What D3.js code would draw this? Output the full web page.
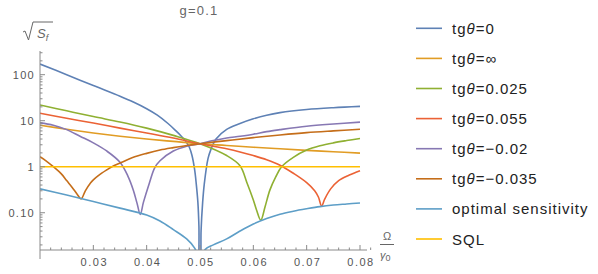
<!DOCTYPE html>
<html>
<head>
<meta charset="utf-8">
<script src="https://cdn.jsdelivr.net/npm/d3@7"></script>
<style>
  body { margin: 0; background: #fff; }
  text { font-family: "Liberation Sans", Arial, sans-serif; }
</style>
</head>
<body>
<div id="chart"></div>
<script>
// curves: [Ω/γ0, √S_f]
var tg0 = [[0.02,170],[0.025,100],[0.03,58],[0.035,34],[0.0375,25.4],[0.04,18.2],[0.042,13.2],[0.044,8.7],[0.0455,6.0],[0.0465,4.6],[0.0473,3.6],[0.048,2.65],[0.0485,1.75],[0.049,0.85],[0.0493,0.42],[0.0496,0.17],[0.0498,0.05],[0.04995,0.004],[0.05005,0.004],[0.0502,0.04],[0.0505,0.17],[0.0508,0.42],[0.0515,1.5],[0.052,2.3],[0.053,4.0],[0.055,6.5],[0.0575,8.7],[0.06,11],[0.0625,13.2],[0.065,15],[0.07,17.5],[0.075,19.2],[0.08,20.5]];
var tgInf = [[0.02,8.0],[0.025,6.5],[0.03,5.4],[0.035,4.6],[0.04,4.0],[0.045,3.55],[0.05,3.16],[0.055,2.9],[0.06,2.65],[0.065,2.45],[0.07,2.27],[0.075,2.12],[0.08,1.98]];
var tg025 = [[0.02,22],[0.025,16.4],[0.03,12.3],[0.035,9.4],[0.04,6.9],[0.045,4.8],[0.05,3.16],[0.055,1.75],[0.0575,1.05],[0.0588,0.45],[0.06,0.19],[0.0606,0.115],[0.0614,0.069],[0.0622,0.135],[0.0631,0.31],[0.0642,0.6],[0.0653,1.0],[0.0675,1.6],[0.07,2.3],[0.0725,2.85],[0.075,3.3],[0.0775,3.7],[0.08,4.1]];
var tg055 = [[0.02,14.5],[0.025,11.3],[0.03,8.9],[0.035,6.9],[0.04,5.4],[0.045,4.2],[0.05,3.16],[0.055,2.45],[0.0575,2.1],[0.06,1.75],[0.0625,1.42],[0.065,1.08],[0.0675,0.72],[0.07,0.45],[0.0715,0.3],[0.0722,0.22],[0.0728,0.14],[0.0734,0.2],[0.0745,0.33],[0.076,0.5],[0.078,0.66],[0.08,0.82]];
var tgm02 = [[0.02,9.0],[0.0225,8.0],[0.025,6.4],[0.0275,4.6],[0.03,3.3],[0.0325,2.2],[0.035,1.25],[0.0365,0.62],[0.0375,0.31],[0.0382,0.16],[0.0388,0.092],[0.0394,0.17],[0.0405,0.44],[0.0415,0.95],[0.0425,1.35],[0.045,2.2],[0.0475,2.8],[0.05,3.16],[0.0525,3.7],[0.055,4.2],[0.0575,4.6],[0.06,5.1],[0.0625,5.8],[0.065,6.4],[0.07,7.6],[0.075,8.5],[0.08,9.3]];
var tgm035 = [[0.02,1.65],[0.021,1.38],[0.0225,1.0],[0.024,0.7],[0.025,0.5],[0.026,0.36],[0.027,0.25],[0.0277,0.2],[0.0285,0.3],[0.0295,0.45],[0.03,0.52],[0.031,0.65],[0.0325,0.85],[0.0335,1.0],[0.035,1.2],[0.0375,1.6],[0.04,1.95],[0.0425,2.3],[0.045,2.6],[0.0475,2.9],[0.05,3.16],[0.055,3.7],[0.06,4.3],[0.065,4.9],[0.07,5.5],[0.075,6.0],[0.08,6.5]];
var optimal = [[0.02,0.33],[0.025,0.243],[0.03,0.175],[0.035,0.126],[0.04,0.089],[0.0425,0.066],[0.045,0.043],[0.0475,0.027],[0.049,0.017],[0.0497,0.01],[0.04995,0.003],[0.05005,0.003],[0.0503,0.01],[0.051,0.016],[0.0525,0.02],[0.055,0.027],[0.0575,0.04],[0.06,0.057],[0.0625,0.075],[0.065,0.093],[0.0675,0.108],[0.07,0.122],[0.0725,0.136],[0.075,0.147],[0.0775,0.155],[0.08,0.163]];
var sql = [[0.02,1],[0.08,1]];

var seriesNames = ["tgθ=0", "tgθ=∞", "tgθ=0.025", "tgθ=0.055", "tgθ=−0.02", "tgθ=−0.035", "optimal sensitivity", "SQL"];
var seriesData = [tg0, tgInf, tg025, tg055, tgm02, tgm035, optimal, sql];
var colors = ["#5E81B5", "#E19C24", "#8FB032", "#EB6235", "#8778B3", "#C56E1A", "#5D9EC7", "#FFBF00"];

var xTicks = [0.03, 0.04, 0.05, 0.06, 0.07, 0.08];
var yTicks = [0.1, 1, 10, 100];
var yTickLabels = ["0.10", "1", "10", "100"];

var w = 598, h = 274;

var svg = d3.select("#chart")
            .append("svg")
            .attr("width", w)
            .attr("height", h);

var x = d3.scaleLinear().domain([0.02, 0.08]).range([40, 360]);
var y = d3.scaleLog().domain([0.0155, 100]).range([250, 74.7]);

var axisColor = "#8a8a8a", textColor = "#555";

svg.append("clipPath").attr("id", "clip")
    .append("rect").attr("x", 40).attr("y", 51).attr("width", 324).attr("height", 199);

// curves
var line = d3.line()
    .x(function(d) { return x(d[0]); })
    .y(function(d) { return y(d[1]); })
    .curve(d3.curveCatmullRom.alpha(0.5));

svg.append("g").attr("clip-path", "url(#clip)")
    .selectAll("path")
    .data(seriesData)
    .enter()
    .append("path")
    .attr("d", line)
    .attr("fill", "none")
    .attr("stroke", function(d, i) { return colors[i]; })
    .attr("stroke-width", 1.6);

// x axis
svg.append("line").attr("x1", 40).attr("x2", 367).attr("y1", 250).attr("y2", 250)
    .attr("stroke", axisColor);
var xMinor = d3.range(0.022, 0.0821, 0.002);
svg.selectAll(".xminor")
    .data(xMinor)
    .enter()
    .append("line")
    .attr("x1", function(d) { return x(d); })
    .attr("x2", function(d) { return x(d); })
    .attr("y1", 250)
    .attr("y2", function(d) { return Math.abs(d * 100 - Math.round(d * 100)) < 1e-6 ? 245 : 247.5; })
    .attr("stroke", axisColor);
svg.selectAll(".xlab")
    .data(xTicks)
    .enter()
    .append("text")
    .attr("x", function(d) { return x(d) + 1; })
    .attr("y", 266)
    .attr("text-anchor", "middle")
    .attr("font-size", "11px")
    .attr("letter-spacing", "1.5px")
    .attr("fill", textColor)
    .text(function(d) { return d3.format(".2f")(d); });

// y axis
svg.append("line").attr("x1", 40).attr("x2", 40).attr("y1", 51).attr("y2", 259)
    .attr("stroke", axisColor);
var yMinor = [];
[0.01, 0.1, 1, 10, 100].forEach(function(dec) {
    for (var k = 1; k < 10; k++) {
        var v = dec * k;
        if (y(v) <= 250 && y(v) >= 52) yMinor.push(v);
    }
});
svg.selectAll(".yminor")
    .data(yMinor)
    .enter()
    .append("line")
    .attr("x1", 40)
    .attr("x2", function(d) { return yTicks.indexOf(d) >= 0 ? 45 : 42.5; })
    .attr("y1", function(d) { return y(d); })
    .attr("y2", function(d) { return y(d); })
    .attr("stroke", axisColor);
svg.selectAll(".ylab")
    .data(yTicks)
    .enter()
    .append("text")
    .attr("x", 35)
    .attr("y", function(d) { return y(d) + 4; })
    .attr("text-anchor", "end")
    .attr("font-size", "11px")
    .attr("letter-spacing", "1.3px")
    .attr("fill", textColor)
    .text(function(d, i) { return yTickLabels[i]; });

// y label: sqrt(S_f)
svg.append("path")
    .attr("d", "M23,32 L25,31 L28.5,40 L33,22 L53,22")
    .attr("fill", "none").attr("stroke", "#666").attr("stroke-width", 1);
var yl = svg.append("text").attr("x", 37).attr("y", 38)
    .attr("font-size", "13px").attr("fill", "#666").attr("font-style", "italic");
yl.append("tspan").text("S");
yl.append("tspan").attr("font-size", "9px").attr("dy", 3).text("f");

// x label: Ω / γ0
svg.append("text").attr("x", 387).attr("y", 240).attr("text-anchor", "middle")
    .attr("font-size", "11px").attr("fill", "#666").text("Ω");
svg.append("line").attr("x1", 380).attr("x2", 394).attr("y1", 244.5).attr("y2", 244.5)
    .attr("stroke", "#666");
var xl = svg.append("text").attr("x", 380).attr("y", 259)
    .attr("font-size", "11px").attr("fill", "#666").attr("font-style", "italic");
xl.append("tspan").text("γ");
xl.append("tspan").attr("font-size", "9px").attr("font-style", "normal").attr("dy", 2).text("0");

// title
svg.append("text").attr("x", 199).attr("y", 15).attr("text-anchor", "middle")
    .attr("font-size", "13px").attr("letter-spacing", "1.2px").attr("fill", "#666")
    .text("g=0.1");

// legend
var legend = svg.selectAll(".legend")
    .data(seriesNames)
    .enter()
    .append("g")
    .attr("transform", function(d, i) { return "translate(416," + (28.3 + i * 30.1) + ")"; });
legend.append("line")
    .attr("x1", 0).attr("x2", 26).attr("y1", 0).attr("y2", 0)
    .attr("stroke", function(d, i) { return colors[i]; })
    .attr("stroke-width", 1.6);
legend.append("text")
    .attr("x", 36)
    .attr("y", 5.5)
    .attr("font-size", "15px")
    .attr("letter-spacing", "1px")
    .attr("fill", "#222")
    .each(function(d) {
        var t = d3.select(this);
        var m = d.match(/^tg(θ)(.*)$/);
        if (m) {
            t.append("tspan").text("tg");
            t.append("tspan").attr("font-style", "italic").text("θ");
            t.append("tspan").text(m[2]);
        } else {
            t.text(d);
        }
    });
</script>
</body>
</html>
